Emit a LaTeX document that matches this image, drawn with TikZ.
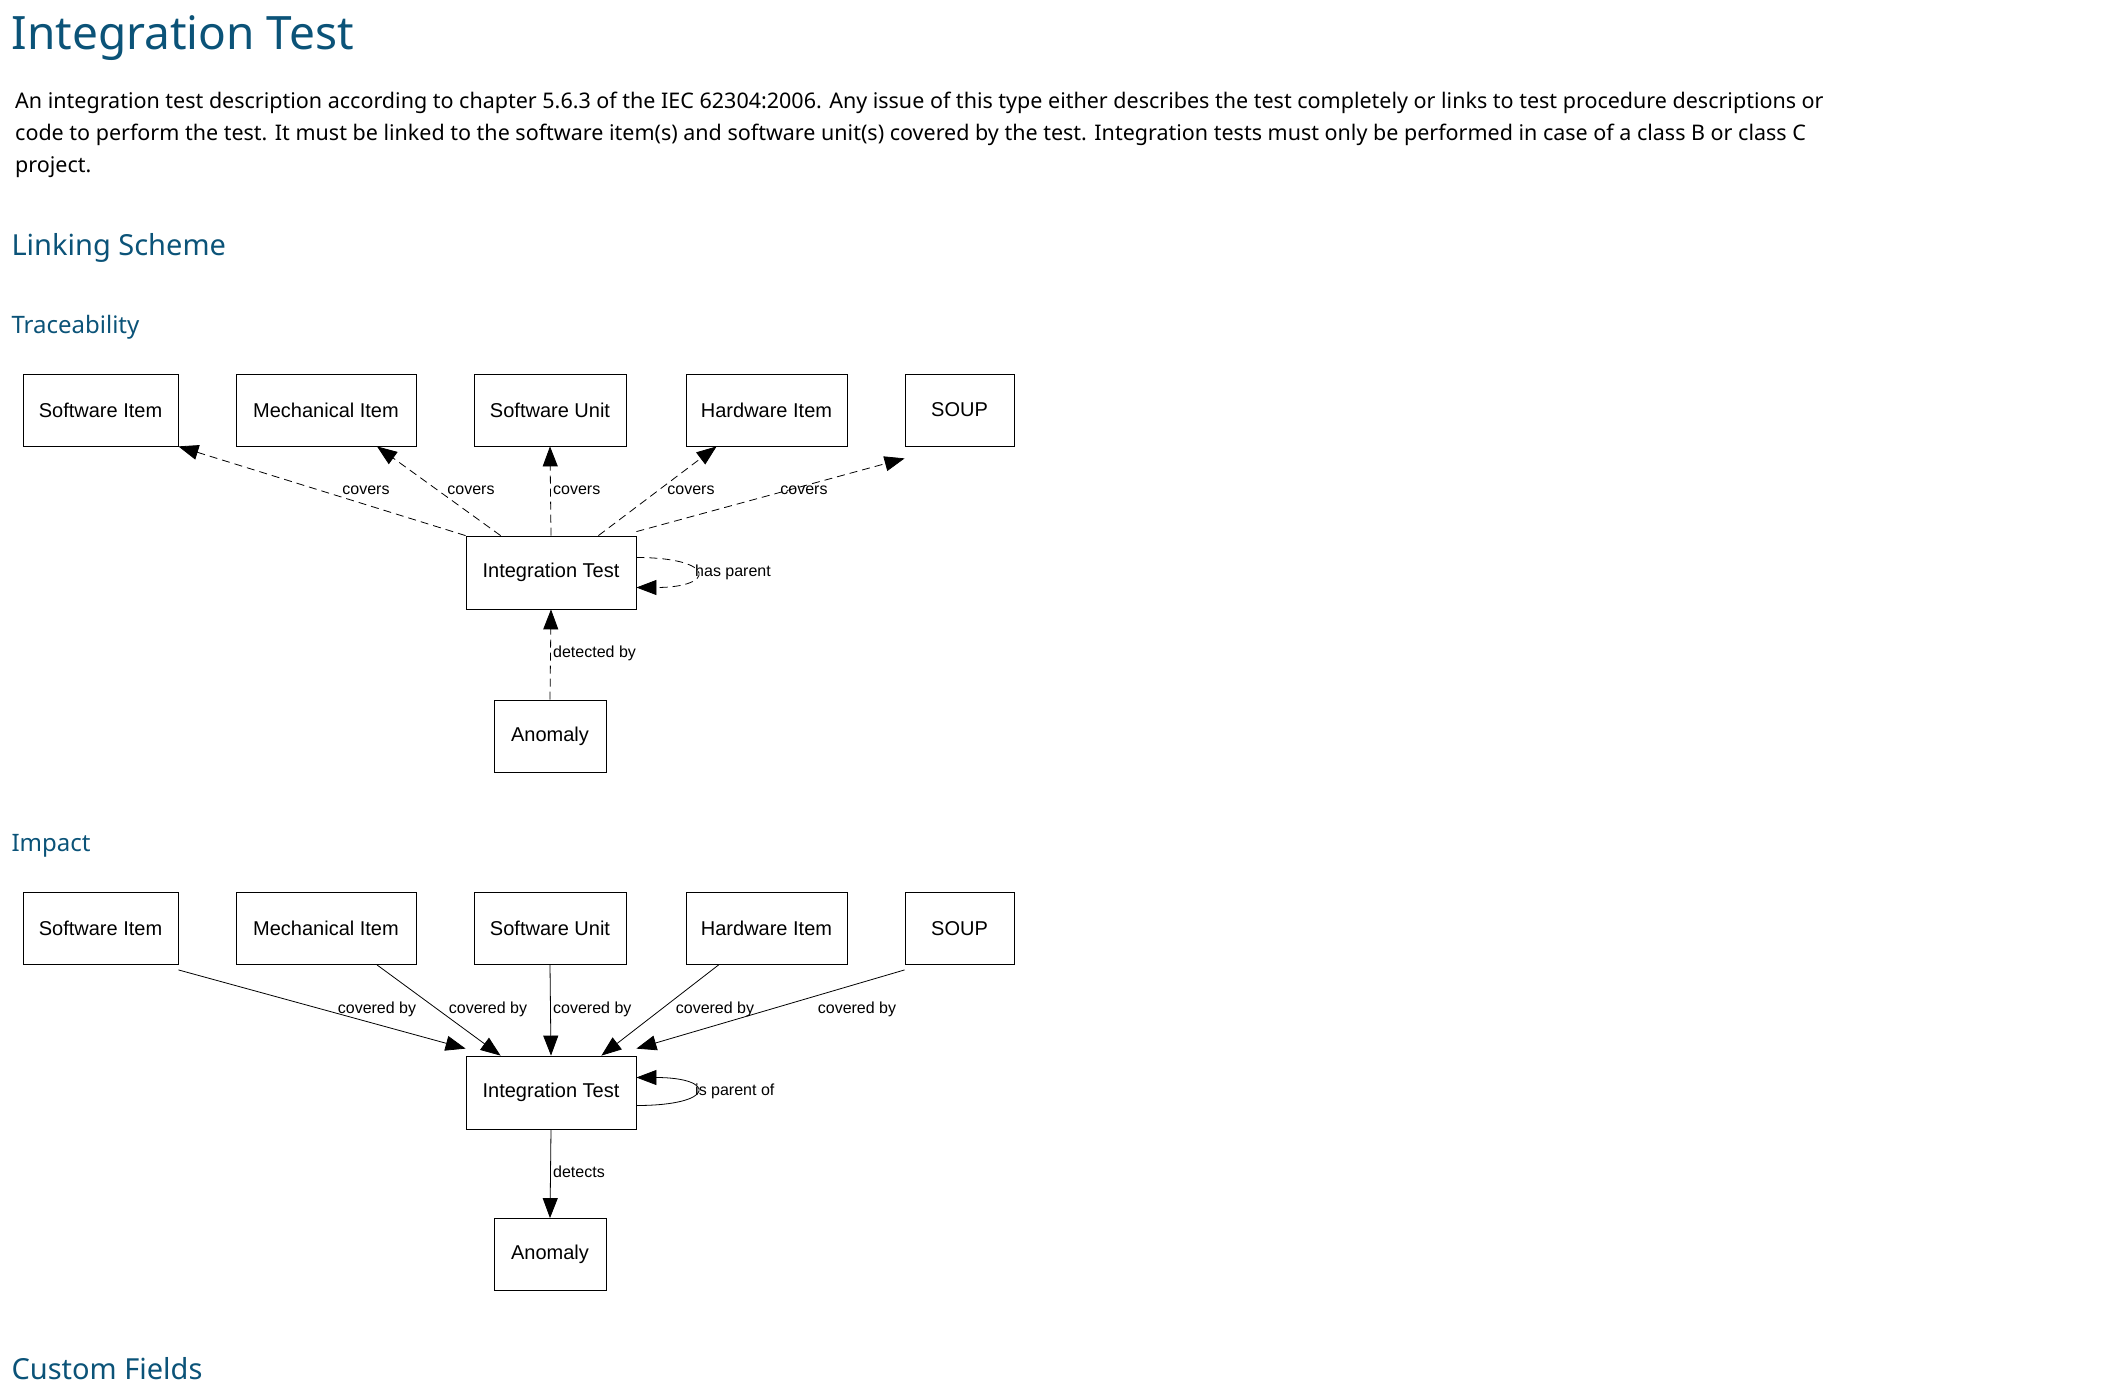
\documentclass[tikz,border=0pt]{standalone}
\usepackage{fontspec}
\setmainfont{Noto Sans}
\newfontfamily\diafont{Liberation Sans}
\usetikzlibrary{arrows.meta}
\definecolor{headblue}{HTML}{0B5378}

\begin{document}
\begin{tikzpicture}[x=1pt,y=-1pt,
  item/.style={draw,thick,minimum height=72pt,inner sep=0pt,font=\diafont\fontsize{20}{24}\selectfont},
  lbl/.style={font=\diafont\fontsize{16}{19}\selectfont,inner sep=1pt},
  trace/.style={thick,dashed,dash pattern=on 8pt off 5pt,-{Triangle[length=20pt,width=15pt]}},
  hit/.style={thick,-{Triangle[length=20pt,width=15pt]}},
  head/.style={anchor=west,text=headblue,font=\bfseries\fontsize{#1}{#1}\selectfont}]
  \useasboundingbox (0,0) rectangle (2102,1387);

  \node[head=46] (title) at (8,38) {Integration Test};
  \node[anchor=north west,align=left,inner sep=0pt,font=\fontsize{21.5}{32}\selectfont] (intro) at (15,92)
    {An integration test description according to chapter 5.6.3 of the IEC 62304:2006. Any issue of this type either describes the test completely or links to test procedure descriptions or\\
     code to perform the test. It must be linked to the software item(s) and software unit(s) covered by the test. Integration tests must only be performed in case of a class B or class C\\
     project.};
  \node[head=29] (linking) at (8,248) {Linking Scheme};
  \node[head=24] (tracehead) at (8,327) {Traceability};
  \node[head=24] (impacthead) at (8,846) {Impact};
  \node[head=29] (custom) at (8,1369) {Custom Fields};

  % traceability
  \node[item,minimum width=155pt] (si) at (100.5,410) {Software Item};
  \node[item,minimum width=180pt] (mi) at (326,410) {Mechanical Item};
  \node[item,minimum width=152pt] (su) at (550,410) {Software Unit};
  \node[item,minimum width=161pt] (hi) at (766.5,410) {Hardware Item};
  \node[item,minimum width=109pt] (soup) at (959.5,410) {SOUP};
  \node[item,minimum width=170pt,minimum height=73pt] (it) at (551,572.5) {Integration Test};
  \node[item,minimum width=112pt] (an) at (550,736) {Anomaly};

  \draw[trace] (it.north west) -- (si.south east);
  \draw[trace] ([xshift=35pt]it.north west) -- ([xshift=51pt]mi.south);
  \draw[trace] (it.north) -- (su.south);
  \draw[trace] ([xshift=-38pt]it.north east) -- ([xshift=31pt]hi.south west);
  \draw[trace] ([yshift=4pt]it.north east) -- ([yshift=-12pt]soup.south west);
  \draw[trace] ([yshift=15pt]it.east) .. controls +(80,0) and +(80,0) .. ([yshift=-15pt]it.east);
  \draw[trace] (an.north) -- (it.south);

  \node[lbl] (c1) at (366,490) {covers};
  \node[lbl] (c2) at (471,490) {covers};
  \node[lbl,anchor=west] (c3) at (552,490) {covers};
  \node[lbl] (c4) at (691,490) {covers};
  \node[lbl] (c5) at (804,490) {covers};
  \node[lbl,anchor=west] (hp) at (694,572) {has parent};
  \node[lbl,anchor=west] (db) at (552,653) {detected by};

  % impact
  \node[item,minimum width=155pt] (si2) at (100.5,928.5) {Software Item};
  \node[item,minimum width=180pt] (mi2) at (326,928.5) {Mechanical Item};
  \node[item,minimum width=152pt] (su2) at (550,928.5) {Software Unit};
  \node[item,minimum width=161pt] (hi2) at (766.5,928.5) {Hardware Item};
  \node[item,minimum width=109pt] (soup2) at (959.5,928.5) {SOUP};
  \node[item,minimum width=170pt,minimum height=73pt] (it2) at (551,1092.5) {Integration Test};
  \node[item,minimum width=112pt] (an2) at (550,1254.5) {Anomaly};

  \draw[hit] ([yshift=-5pt]si2.south east) -- ([yshift=7pt]it2.north west);
  \draw[hit] ([xshift=51pt]mi2.south) -- ([xshift=35pt]it2.north west);
  \draw[hit] (su2.south) -- (it2.north);
  \draw[hit] ([xshift=33pt]hi2.south west) -- ([xshift=-35pt]it2.north east);
  \draw[hit] ([yshift=-5pt]soup2.south west) -- ([yshift=7pt]it2.north east);
  \draw[hit] ([yshift=-13pt]it2.east) .. controls +(80,0) and +(80,0) .. ([yshift=15pt]it2.east);
  \draw[hit] (it2.south) -- (an2.north);

  \node[lbl] (cb1) at (377,1009) {covered by};
  \node[lbl] (cb2) at (488,1009) {covered by};
  \node[lbl,anchor=west] (cb3) at (552,1009) {covered by};
  \node[lbl] (cb4) at (715,1009) {covered by};
  \node[lbl] (cb5) at (857,1009) {covered by};
  \node[lbl,anchor=west] (ip) at (694,1091) {is parent of};
  \node[lbl,anchor=west] (dt) at (552,1172) {detects};
\end{tikzpicture}
\end{document}
